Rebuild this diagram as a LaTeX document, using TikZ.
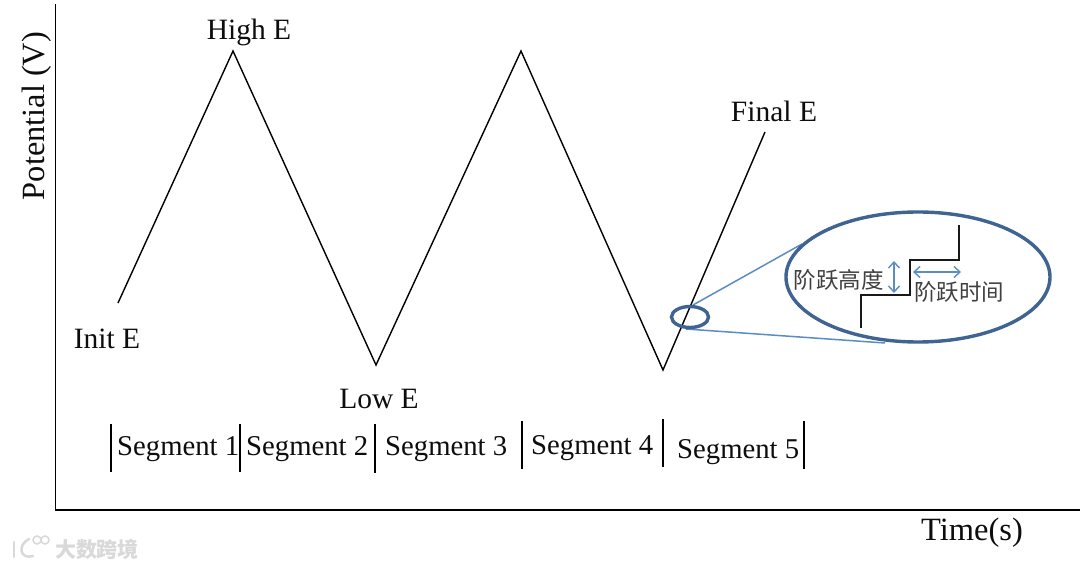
\documentclass[tikz,border=0pt]{standalone}
\usepackage{fontspec}
\setmainfont{Liberation Serif}
\newfontfamily\cjk{Noto Sans CJK SC}
\usetikzlibrary{arrows.meta,shapes.geometric}
\definecolor{ringblue}{HTML}{3F6491}
\definecolor{leadblue}{HTML}{5B8DC4}
\tikzset{
  x=1pt,y=-1pt,
  lab/.style={inner sep=0pt,font=\fontsize{29.5}{31}\selectfont,text=black!95},
  seg/.style={inner sep=0pt,font=\fontsize{28.7}{30}\selectfont,text=black!95,anchor=base west},
  tick/.style={draw=black,line width=1.1pt},
  wave/.style={draw=black,line width=1.4pt,line join=miter},
  ring/.style={draw=ringblue,line width=3.4pt,ellipse,inner sep=0pt},
  lead/.style={draw=leadblue,line width=1.5pt},
  stair/.style={draw=black!90,line width=2pt},
  dbl/.style={draw=leadblue,line width=1.4pt,{Straight Barb[length=6pt,width=11pt]}-{Straight Barb[length=6pt,width=11pt]}},
  cjklab/.style={inner sep=0pt,font=\cjk\fontsize{22.5}{24}\selectfont,text=black!75},
  wm/.style={inner sep=0pt,font=\cjk\bfseries\fontsize{21}{24}\selectfont,text=black!15},
  wmline/.style={draw=black!15,line width=2.5pt,line cap=round}
}
\begin{document}
\begin{tikzpicture}
\useasboundingbox (0,0) rectangle (1080,569);
\fill[white] (0,0) rectangle (1080,569);
% axes
\coordinate (ytop) at (55.5,4);
\coordinate (origin) at (55.5,510);
\coordinate (xend) at (1080,510);
\draw[line width=1.2pt] (ytop) -- (origin) -- (xend);
% waveform
\coordinate (w0) at (118,303);
\coordinate (w1) at (233,51);
\coordinate (w2) at (376,365);
\coordinate (w3) at (521,51);
\coordinate (w4) at (663,370);
\coordinate (w5) at (765,132);
\draw[wave] (w0) -- (w1) -- (w2) -- (w3) -- (w4) -- (w5);
% labels
\node[lab,rotate=90,font=\fontsize{32.4}{34}\selectfont] (ylab) at (37,116) {Potential (V)};
\node[lab,font=\fontsize{32.5}{34}\selectfont] (xlab) at (972,533) {Time(s)};
\node[lab] (high) at (249,32) {High E};
\node[lab] (init) at (107,339) {Init E};
\node[lab] (low) at (379,399) {Low E};
\node[lab] (final) at (774,111) {Final E};
% segments
\coordinate (t0a) at (111,424); \coordinate (t0b) at (111,472);
\coordinate (t1a) at (240,424); \coordinate (t1b) at (240,472);
\coordinate (t2a) at (375,424); \coordinate (t2b) at (375,473);
\coordinate (t3a) at (522,421); \coordinate (t3b) at (522,469);
\coordinate (t4a) at (663,419); \coordinate (t4b) at (663,467);
\coordinate (t5a) at (804,421); \coordinate (t5b) at (804,469);
\foreach \n in {0,...,5} \draw[tick] (t\n a) -- (t\n b);
\node[seg] (s1) at (117,456) {Segment 1};
\node[seg] (s2) at (246,456) {Segment 2};
\node[seg] (s3) at (385,456) {Segment 3};
\node[seg] (s4) at (531,455) {Segment 4};
\node[seg] (s5) at (677,459) {Segment 5};
% magnifier
\coordinate (l1a) at (693,305); \coordinate (l1b) at (802,244);
\coordinate (l2a) at (686,329); \coordinate (l2b) at (885,343);
\draw[lead] (l1a) -- (l1b);
\draw[lead] (l2a) -- (l2b);
\node[ring,minimum width=37pt,minimum height=21pt] (small) at (690,317) {};
\node[ring,minimum width=264pt,minimum height=130pt] (big) at (918,277) {};
% staircase
\coordinate (c0) at (861,328);
\coordinate (c1) at (861,295);
\coordinate (c2) at (910,295);
\coordinate (c3) at (910,260);
\coordinate (c4) at (959,260);
\coordinate (c5) at (959,225);
\draw[stair] (c0) -- (c1) -- (c2) -- (c3) -- (c4) -- (c5);
% step arrows
\coordinate (va) at (894,261); \coordinate (vb) at (894,293);
\coordinate (ha) at (913,272); \coordinate (hb) at (961,272);
\draw[dbl] (va) -- (vb);
\draw[dbl] (ha) -- (hb);
\node[cjklab] (height) at (838.5,280) {阶跃高度};
\node[cjklab] (time) at (959,292) {阶跃时间};
% watermark
\draw[wmline] (14,542) -- (14,557);
\draw[wmline] (29,539) .. controls (17,545) and (20,560) .. (33,556);
\draw[draw=black!15,line width=1.5pt] (37,540) circle[radius=4pt];
\draw[draw=black!15,line width=1.5pt] (45,540) circle[radius=4pt];
\node[wm] (mark) at (97,549) {大数跨境};
\end{tikzpicture}
\end{document}
